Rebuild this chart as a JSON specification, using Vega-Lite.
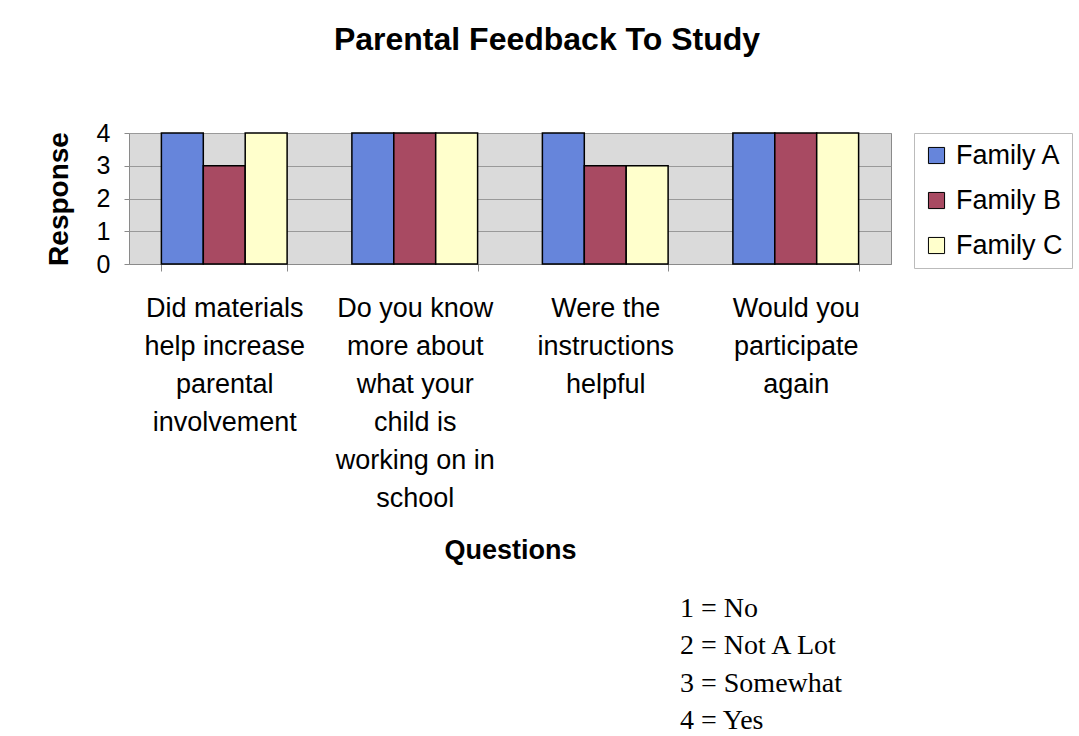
{
  "$schema": "https://vega.github.io/schema/vega-lite/v6.json",
  "background": "white",
  "padding": {"left": 44, "top": 23, "right": 0, "bottom": 0},
  "config": {
    "font": "Liberation Sans",
    "view": {"stroke": null},
    "axis": {"labelFont": "Liberation Sans", "titleFont": "Liberation Sans"},
    "legend": {"labelFont": "Liberation Sans"}
  },
  "spacing": 31,
  "resolve": {"legend": {"color": "independent"}},
  "vconcat": [
    {
      "title": {
        "text": "Parental Feedback To Study",
        "fontSize": 32,
        "fontWeight": "bold",
        "color": "black",
        "anchor": "middle",
        "frame": "group",
        "dx": 37,
        "offset": 64
      },
      "width": 762,
      "height": 131,
      "view": {"fill": "#dadada", "stroke": "#8a8a8a"},
      "data": {
        "values": [
          {"question": "Did materials|help increase|parental|involvement", "family": "Family A", "response": 4},
          {"question": "Did materials|help increase|parental|involvement", "family": "Family B", "response": 3},
          {"question": "Did materials|help increase|parental|involvement", "family": "Family C", "response": 4},
          {"question": "Do you know|more about|what your|child is|working on in|school", "family": "Family A", "response": 4},
          {"question": "Do you know|more about|what your|child is|working on in|school", "family": "Family B", "response": 4},
          {"question": "Do you know|more about|what your|child is|working on in|school", "family": "Family C", "response": 4},
          {"question": "Were the|instructions|helpful", "family": "Family A", "response": 4},
          {"question": "Were the|instructions|helpful", "family": "Family B", "response": 3},
          {"question": "Were the|instructions|helpful", "family": "Family C", "response": 3},
          {"question": "Would you|participate|again", "family": "Family A", "response": 4},
          {"question": "Would you|participate|again", "family": "Family B", "response": 4},
          {"question": "Would you|participate|again", "family": "Family C", "response": 4}
        ]
      },
      "mark": {"type": "bar", "stroke": "black", "strokeWidth": 1.5},
      "encoding": {
        "x": {
          "field": "question",
          "type": "nominal",
          "sort": null,
          "scale": {"paddingInner": 0.34, "paddingOuter": 0.17},
          "axis": {
            "title": "Questions",
            "titleFontSize": 27,
            "titleFontWeight": "bold",
            "titleColor": "black",
            "titlePadding": 73,
            "labelExpr": "split(datum.label, '|')",
            "labelFontSize": 27,
            "labelLineHeight": 38,
            "labelColor": "black",
            "labelPadding": 24,
            "labelAngle": 0,
            "labelLimit": 300,
            "labelOverlap": false,
            "labelBound": false,
            "tickBand": "extent",
            "tickSize": 7,
            "tickColor": "#8a8a8a",
            "domainColor": "#8a8a8a",
            "grid": false
          }
        },
        "xOffset": {
          "field": "family",
          "type": "nominal",
          "scale": {"paddingInner": 0, "paddingOuter": 0}
        },
        "y": {
          "field": "response",
          "type": "quantitative",
          "scale": {"domain": [0, 4], "nice": false},
          "axis": {
            "title": "Response",
            "titleFontSize": 28,
            "titleFontWeight": "bold",
            "titleColor": "black",
            "titlePadding": 23,
            "values": [0, 1, 2, 3, 4],
            "labelFontSize": 25,
            "labelColor": "black",
            "labelPadding": 14,
            "tickSize": 5,
            "tickColor": "#8a8a8a",
            "domain": false,
            "gridColor": "#999999",
            "gridOpacity": 1
          }
        },
        "color": {
          "field": "family",
          "type": "nominal",
          "scale": {
            "domain": ["Family A", "Family B", "Family C"],
            "range": ["#6685db", "#a84a62", "#ffffcc"]
          },
          "legend": {
            "title": null,
            "orient": "right",
            "offset": 23,
            "padding": 9,
            "strokeColor": "#bbbbbb",
            "fillColor": "white",
            "labelFontSize": 27,
            "labelColor": "black",
            "symbolType": "square",
            "symbolSize": 260,
            "symbolStrokeColor": "black",
            "symbolStrokeWidth": 1,
            "symbolOpacity": 1,
            "rowPadding": 17,
            "labelOffset": 6
          }
        }
      }
    },
    {
      "width": 762,
      "height": 112,
      "data": {
        "values": [
          {"line": "1", "text": "1 = No"},
          {"line": "2", "text": "2 = Not A Lot"},
          {"line": "3", "text": "3 = Somewhat"},
          {"line": "4", "text": "4 = Yes"}
        ]
      },
      "mark": {"type": "text", "align": "left", "baseline": "middle", "dx": 170, "font": "Liberation Serif", "fontSize": 28, "color": "black"},
      "encoding": {
        "y": {"field": "line", "type": "ordinal", "scale": {"type": "point", "padding": 0}, "axis": null},
        "text": {"field": "text"}
      }
    }
  ]
}
